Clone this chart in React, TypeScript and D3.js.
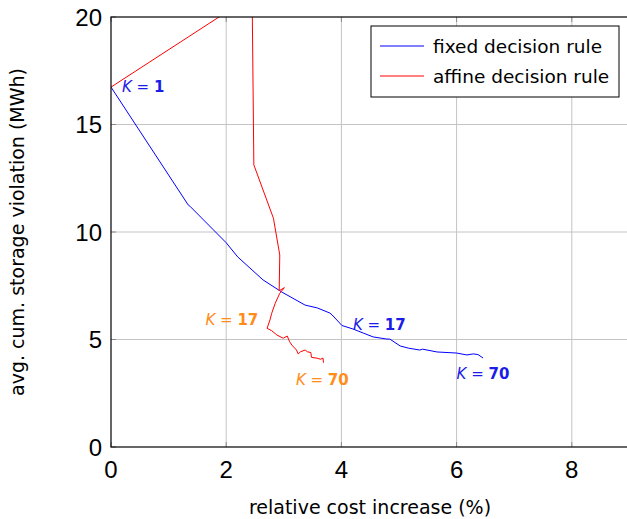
import * as d3 from 'd3';
import { useEffect, useRef } from 'react';

// fixed decision rule (blue)
const fixedX = [0, 1.34, 1.37, 2.0, 2.2, 2.64, 2.97, 3.37, 3.58, 3.8, 3.84, 4.01, 4.2, 4.38, 4.55, 4.79, 4.84, 5.02, 5.16, 5.36, 5.41, 5.66, 6.0, 6.18, 6.29, 6.37, 6.46];
const fixedY = [16.74, 11.26, 11.2, 9.5, 8.84, 7.77, 7.2, 6.6, 6.47, 6.23, 6.14, 5.65, 5.49, 5.3, 5.12, 5.02, 5.02, 4.7, 4.6, 4.51, 4.55, 4.42, 4.37, 4.28, 4.33, 4.3, 4.14];

// affine decision rule (red)
const affineX = [0, 2.45, 2.48, 2.82, 2.93, 2.92, 3.01, 2.93, 2.85, 2.79, 2.76, 2.71, 2.79, 2.88, 2.99, 3.06, 3.1, 3.14, 3.22, 3.25, 3.29, 3.37, 3.41, 3.47, 3.48, 3.58, 3.64, 3.68, 3.69];
const affineY = [16.74, 21.0, 13.12, 10.64, 8.93, 7.27, 7.41, 7.15, 6.68, 6.22, 5.91, 5.52, 5.41, 5.21, 5.06, 5.16, 4.9, 4.74, 4.51, 4.33, 4.43, 4.51, 4.43, 4.39, 4.17, 4.13, 4.08, 4.14, 3.92];

const xTicks = [0, 2, 4, 6, 8];
const yTicks = [0, 5, 10, 15, 20];

// K annotations: anchor in data units
const labelK = ['1', '17', '70', '17', '70'];
const labelX = [0.19, 4.2, 6.0, 1.64, 3.21];
const labelY = [16.74, 5.68, 3.4, 5.92, 3.13];
const labelColor = ['#1c1ce8', '#1c1ce8', '#1c1ce8', '#ff8c1a', '#ff8c1a'];

const seriesNames = ['fixed decision rule', 'affine decision rule'];
const seriesColors = ['#0000ff', '#ff0000'];

const W = 627;
const H = 519;
const NUM_FONT = '"Liberation Sans", Arial, sans-serif';
const FONT = '"DejaVu Sans", sans-serif';

const App = () => {
  const svgRef = useRef<SVGSVGElement>(null);

  useEffect(() => {
    if (!svgRef.current) return;
    const svg = d3.select(svgRef.current);
    svg.selectAll('*').remove();

    const left = 111;
    const top = 17;
    const bottom = 447;
    const x = d3.scaleLinear().domain([0, 9]).range([left, left + 9 * 57.6]);
    const y = d3.scaleLinear().domain([0, 20]).range([bottom, top]);
    const right = x(9);

    svg
      .append('defs')
      .append('clipPath')
      .attr('id', 'plot-clip')
      .append('rect')
      .attr('x', left)
      .attr('y', top)
      .attr('width', right - left)
      .attr('height', bottom - top);

    // grid
    const grid = svg.append('g').attr('stroke', '#c4c4c4').attr('stroke-width', 1);
    xTicks.slice(1).forEach((t) => {
      grid.append('line').attr('x1', x(t)).attr('x2', x(t)).attr('y1', top).attr('y2', bottom);
    });
    yTicks.slice(1, -1).forEach((t) => {
      grid.append('line').attr('x1', left).attr('x2', right).attr('y1', y(t)).attr('y2', y(t));
    });

    // tick marks (inside, all four sides)
    const ticks = svg.append('g').attr('stroke', '#8a8a8a').attr('stroke-width', 1);
    xTicks.forEach((t) => {
      ticks.append('line').attr('x1', x(t)).attr('x2', x(t)).attr('y1', bottom).attr('y2', bottom - 5);
      ticks.append('line').attr('x1', x(t)).attr('x2', x(t)).attr('y1', top).attr('y2', top + 5);
    });
    yTicks.forEach((t) => {
      ticks.append('line').attr('x1', left).attr('x2', left + 5).attr('y1', y(t)).attr('y2', y(t));
    });

    // series
    const line = d3
      .line<[number, number]>()
      .x((d) => x(d[0]))
      .y((d) => y(d[1]));
    const plot = svg.append('g').attr('clip-path', 'url(#plot-clip)');
    [
      { xs: fixedX, ys: fixedY },
      { xs: affineX, ys: affineY },
    ].forEach((s, i) => {
      plot
        .append('path')
        .datum(s.xs.map((v, j) => [v, s.ys[j]] as [number, number]))
        .attr('d', line)
        .attr('fill', 'none')
        .attr('stroke', seriesColors[i])
        .attr('stroke-width', 1)
        .attr('stroke-linejoin', 'round');
    });

    // K labels
    labelK.forEach((k, i) => {
      const t = svg
        .append('text')
        .attr('x', x(labelX[i]))
        .attr('y', y(labelY[i]))
        .attr('dy', '0.36em')
        .attr('fill', labelColor[i])
        .attr('font-family', FONT)
        .attr('font-size', 15);
      t.append('tspan').attr('font-style', 'italic').text('K');
      t.append('tspan').text(' = ');
      t.append('tspan').attr('font-weight', 'bold').text(k);
    });

    // frame
    svg
      .append('rect')
      .attr('x', left)
      .attr('y', top)
      .attr('width', right - left)
      .attr('height', bottom - top)
      .attr('fill', 'none')
      .attr('stroke', '#000')
      .attr('stroke-width', 1.2);

    // tick labels
    svg
      .append('g')
      .selectAll('text')
      .data(xTicks)
      .join('text')
      .attr('x', (d) => x(d))
      .attr('y', bottom + 31)
      .attr('text-anchor', 'middle')
      .attr('font-family', NUM_FONT)
      .attr('font-size', 24)
      .text((d) => d);
    svg
      .append('g')
      .selectAll('text')
      .data(yTicks)
      .join('text')
      .attr('x', left - 9)
      .attr('y', (d) => y(d))
      .attr('dy', '0.36em')
      .attr('text-anchor', 'end')
      .attr('font-family', NUM_FONT)
      .attr('font-size', 24)
      .text((d) => d);

    // axis titles
    svg
      .append('text')
      .attr('x', 370)
      .attr('y', 514)
      .attr('text-anchor', 'middle')
      .attr('font-family', FONT)
      .attr('font-size', 19)
      .text('relative cost increase (%)');
    svg
      .append('text')
      .attr('transform', `translate(24, ${232}) rotate(-90)`)
      .attr('text-anchor', 'middle')
      .attr('font-family', FONT)
      .attr('font-size', 19)
      .text('avg. cum. storage violation (MWh)');

    // legend
    const lg = svg.append('g').attr('transform', 'translate(371, 26)');
    lg.append('rect')
      .attr('width', 248)
      .attr('height', 71)
      .attr('fill', '#fff')
      .attr('stroke', '#000')
      .attr('stroke-width', 1);
    seriesNames.forEach((name, i) => {
      lg.append('line')
        .attr('x1', 9)
        .attr('x2', 53)
        .attr('y1', 20 + i * 30)
        .attr('y2', 20 + i * 30)
        .attr('stroke', seriesColors[i])
        .attr('stroke-width', 1);
      lg.append('text')
        .attr('x', 62)
        .attr('y', 20 + i * 30)
        .attr('dy', '0.36em')
        .attr('font-family', FONT)
        .attr('font-size', 18.5)
        .text(name);
    });
  }, []);

  return (
    <svg
      ref={svgRef}
      width={W}
      height={H}
      style={{ position: 'absolute', left: 0, top: 0, background: '#fff' }}
    />
  );
};

export default App;
